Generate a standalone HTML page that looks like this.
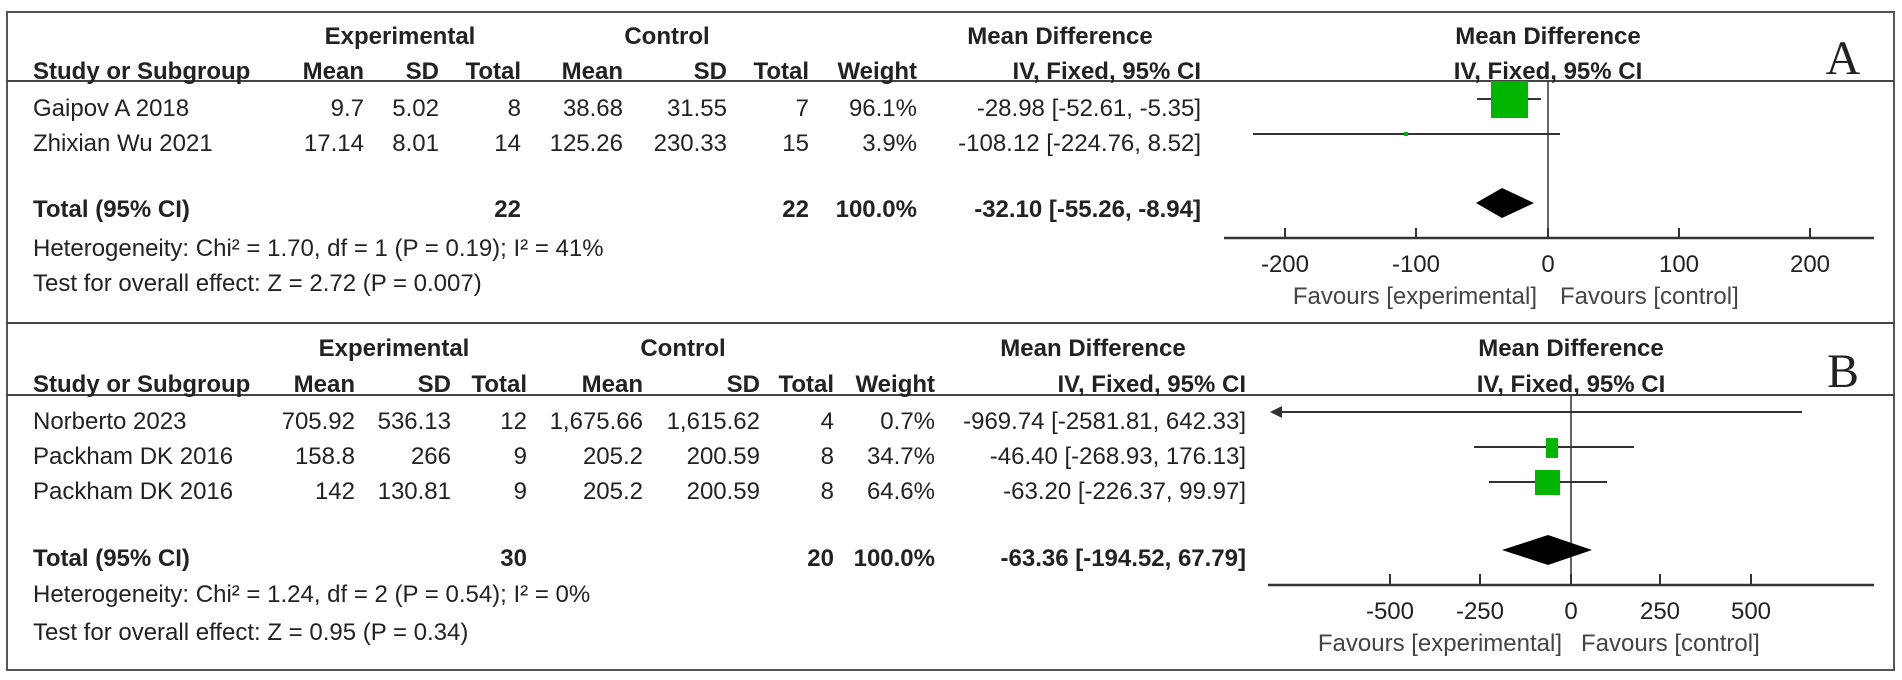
<!DOCTYPE html>
<html><head><meta charset="utf-8"><style>
body{margin:0;background:#fff}
svg{display:block}
text{font-family:"Liberation Sans",Arial,sans-serif;font-size:24px;fill:#222}
.b{font-weight:bold}
.e{text-anchor:end}
.m{text-anchor:middle}
</style></head><body>
<svg width="1902" height="680" viewBox="0 0 1902 680" xmlns="http://www.w3.org/2000/svg">
<rect x="7" y="12" width="1887" height="658" fill="none" stroke="#555" stroke-width="2"/>
<line x1="7" y1="81" x2="1894" y2="81" stroke="#444" stroke-width="2"/>
<line x1="7" y1="323" x2="1894" y2="323" stroke="#444" stroke-width="2"/>
<line x1="7" y1="395" x2="1894" y2="395" stroke="#444" stroke-width="2"/>

<!-- Panel A -->
<text class="b m" x="400" y="44">Experimental</text>
<text class="b m" x="667" y="44">Control</text>
<text class="b m" x="1060" y="44">Mean Difference</text>
<text class="b m" x="1548" y="44">Mean Difference</text>
<text class="b" x="33" y="79">Study or Subgroup</text>
<text class="b e" x="364" y="79">Mean</text>
<text class="b e" x="439" y="79">SD</text>
<text class="b e" x="521" y="79">Total</text>
<text class="b e" x="623" y="79">Mean</text>
<text class="b e" x="727" y="79">SD</text>
<text class="b e" x="809" y="79">Total</text>
<text class="b e" x="917" y="79">Weight</text>
<text class="b e" x="1201" y="79">IV, Fixed, 95% CI</text>
<text class="b m" x="1548" y="79">IV, Fixed, 95% CI</text>
<text x="1843" y="74" style="font-family:'Liberation Serif',serif;font-size:48px;text-anchor:middle">A</text>

<text x="33" y="116">Gaipov A 2018</text>
<text class="e" x="364" y="116">9.7</text><text class="e" x="439" y="116">5.02</text><text class="e" x="521" y="116">8</text>
<text class="e" x="623" y="116">38.68</text><text class="e" x="727" y="116">31.55</text><text class="e" x="809" y="116">7</text>
<text class="e" x="917" y="116">96.1%</text><text class="e" x="1201" y="116">-28.98 [-52.61, -5.35]</text>
<text x="33" y="151">Zhixian Wu 2021</text>
<text class="e" x="364" y="151">17.14</text><text class="e" x="439" y="151">8.01</text><text class="e" x="521" y="151">14</text>
<text class="e" x="623" y="151">125.26</text><text class="e" x="727" y="151">230.33</text><text class="e" x="809" y="151">15</text>
<text class="e" x="917" y="151">3.9%</text><text class="e" x="1201" y="151">-108.12 [-224.76, 8.52]</text>
<text class="b" x="33" y="217">Total (95% CI)</text>
<text class="b e" x="521" y="217">22</text><text class="b e" x="809" y="217">22</text>
<text class="b e" x="917" y="217">100.0%</text><text class="b e" x="1201" y="217">-32.10 [-55.26, -8.94]</text>
<text x="33" y="256">Heterogeneity: Chi² = 1.70, df = 1 (P = 0.19); I² = 41%</text>
<text x="33" y="291">Test for overall effect: Z = 2.72 (P = 0.007)</text>

<line x1="1548" y1="81" x2="1548" y2="238" stroke="#333" stroke-width="1.5"/>
<line x1="1224" y1="238" x2="1874" y2="238" stroke="#333" stroke-width="2.5"/>
<g stroke="#333" stroke-width="2"><line x1="1285" y1="228" x2="1285" y2="238"/><line x1="1416" y1="228" x2="1416" y2="238"/><line x1="1548" y1="228" x2="1548" y2="238"/><line x1="1679" y1="228" x2="1679" y2="238"/><line x1="1810" y1="228" x2="1810" y2="238"/></g>
<text class="m" x="1285" y="272">-200</text><text class="m" x="1416" y="272">-100</text><text class="m" x="1548" y="272">0</text><text class="m" x="1679" y="272">100</text><text class="m" x="1810" y="272">200</text>
<text class="e" x="1537" y="304" style="fill:#444">Favours [experimental]</text>
<text x="1560" y="304" style="fill:#444">Favours [control]</text>
<line x1="1477" y1="99" x2="1541" y2="99" stroke="#333" stroke-width="2"/>
<rect x="1491" y="81" width="37" height="37" fill="#00b400"/>
<line x1="1253" y1="134" x2="1560" y2="134" stroke="#333" stroke-width="2"/>
<rect x="1404" y="132" width="4" height="4" fill="#00b400"/>
<polygon points="1476,203 1502,188 1534,203 1502,218" fill="#000"/>

<!-- Panel B -->
<text class="b m" x="394" y="356">Experimental</text>
<text class="b m" x="683" y="356">Control</text>
<text class="b m" x="1093" y="356">Mean Difference</text>
<text class="b m" x="1571" y="356">Mean Difference</text>
<text class="b" x="33" y="392">Study or Subgroup</text>
<text class="b e" x="355" y="392">Mean</text>
<text class="b e" x="451" y="392">SD</text>
<text class="b e" x="527" y="392">Total</text>
<text class="b e" x="643" y="392">Mean</text>
<text class="b e" x="760" y="392">SD</text>
<text class="b e" x="834" y="392">Total</text>
<text class="b e" x="935" y="392">Weight</text>
<text class="b e" x="1246" y="392">IV, Fixed, 95% CI</text>
<text class="b m" x="1571" y="392">IV, Fixed, 95% CI</text>
<text x="1843" y="387" style="font-family:'Liberation Serif',serif;font-size:48px;text-anchor:middle">B</text>

<text x="33" y="429">Norberto 2023</text>
<text class="e" x="355" y="429">705.92</text><text class="e" x="451" y="429">536.13</text><text class="e" x="527" y="429">12</text>
<text class="e" x="643" y="429">1,675.66</text><text class="e" x="760" y="429">1,615.62</text><text class="e" x="834" y="429">4</text>
<text class="e" x="935" y="429">0.7%</text><text class="e" x="1246" y="429">-969.74 [-2581.81, 642.33]</text>
<text x="33" y="464">Packham DK 2016</text>
<text class="e" x="355" y="464">158.8</text><text class="e" x="451" y="464">266</text><text class="e" x="527" y="464">9</text>
<text class="e" x="643" y="464">205.2</text><text class="e" x="760" y="464">200.59</text><text class="e" x="834" y="464">8</text>
<text class="e" x="935" y="464">34.7%</text><text class="e" x="1246" y="464">-46.40 [-268.93, 176.13]</text>
<text x="33" y="499">Packham DK 2016</text>
<text class="e" x="355" y="499">142</text><text class="e" x="451" y="499">130.81</text><text class="e" x="527" y="499">9</text>
<text class="e" x="643" y="499">205.2</text><text class="e" x="760" y="499">200.59</text><text class="e" x="834" y="499">8</text>
<text class="e" x="935" y="499">64.6%</text><text class="e" x="1246" y="499">-63.20 [-226.37, 99.97]</text>
<text class="b" x="33" y="566">Total (95% CI)</text>
<text class="b e" x="527" y="566">30</text><text class="b e" x="834" y="566">20</text>
<text class="b e" x="935" y="566">100.0%</text><text class="b e" x="1246" y="566">-63.36 [-194.52, 67.79]</text>
<text x="33" y="602">Heterogeneity: Chi² = 1.24, df = 2 (P = 0.54); I² = 0%</text>
<text x="33" y="640">Test for overall effect: Z = 0.95 (P = 0.34)</text>

<line x1="1571" y1="395" x2="1571" y2="585" stroke="#333" stroke-width="1.5"/>
<line x1="1268" y1="585" x2="1874" y2="585" stroke="#333" stroke-width="2.5"/>
<g stroke="#333" stroke-width="2"><line x1="1390" y1="574" x2="1390" y2="585"/><line x1="1480" y1="574" x2="1480" y2="585"/><line x1="1571" y1="574" x2="1571" y2="585"/><line x1="1660" y1="574" x2="1660" y2="585"/><line x1="1751" y1="574" x2="1751" y2="585"/></g>
<text class="m" x="1390" y="619">-500</text><text class="m" x="1480" y="619">-250</text><text class="m" x="1571" y="619">0</text><text class="m" x="1660" y="619">250</text><text class="m" x="1751" y="619">500</text>
<text class="e" x="1562" y="651" style="fill:#444">Favours [experimental]</text>
<text x="1581" y="651" style="fill:#444">Favours [control]</text>
<line x1="1272" y1="412" x2="1802" y2="412" stroke="#333" stroke-width="2"/>
<polygon points="1270,412 1282,406 1282,418" fill="#333"/>
<line x1="1474" y1="447" x2="1634" y2="447" stroke="#333" stroke-width="2"/>
<rect x="1546" y="438" width="12" height="20" fill="#00b400"/>
<line x1="1489" y1="482" x2="1607" y2="482" stroke="#333" stroke-width="2"/>
<rect x="1535" y="470" width="25" height="25" fill="#00b400"/>
<polygon points="1502,550 1548,535 1592,550 1548,565" fill="#000"/>
</svg>
</body></html>
